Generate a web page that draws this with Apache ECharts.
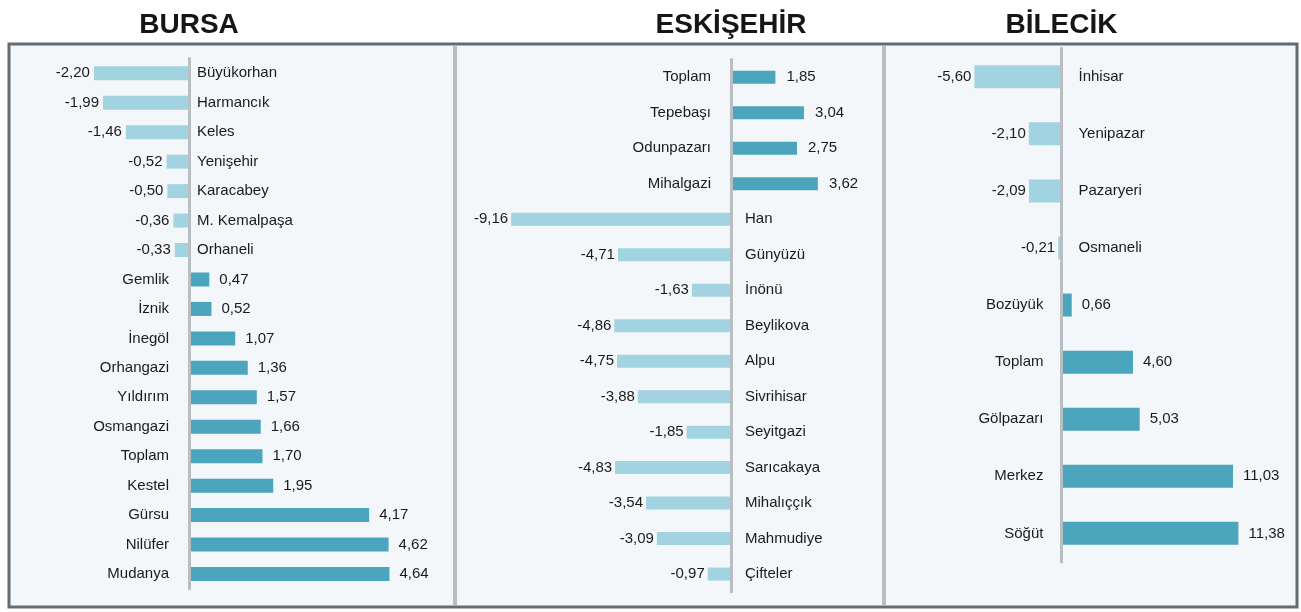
<!DOCTYPE html>
<html>
<head>
<meta charset="utf-8">
<title>Bursa Eskişehir Bilecik</title>
<script src="https://cdn.jsdelivr.net/npm/echarts@6/dist/echarts.min.js"></script>
<style>
    html, body { margin: 0; padding: 0; background: #fff; }
    #chart { width: 1301px; height: 612px; }
</style>
</head>
<body>
<div id="chart"></div>
<script>
// data
let bursaNames = ['Büyükorhan', 'Harmancık', 'Keles', 'Yenişehir', 'Karacabey', 'M. Kemalpaşa', 'Orhaneli',
    'Gemlik', 'İznik', 'İnegöl', 'Orhangazi', 'Yıldırım', 'Osmangazi', 'Toplam', 'Kestel', 'Gürsu', 'Nilüfer', 'Mudanya'];
let bursaValues = [-2.20, -1.99, -1.46, -0.52, -0.50, -0.36, -0.33,
    0.47, 0.52, 1.07, 1.36, 1.57, 1.66, 1.70, 1.95, 4.17, 4.62, 4.64];

let eskisehirNames = ['Toplam', 'Tepebaşı', 'Odunpazarı', 'Mihalgazi', 'Han', 'Günyüzü', 'İnönü', 'Beylikova',
    'Alpu', 'Sivrihisar', 'Seyitgazi', 'Sarıcakaya', 'Mihalıççık', 'Mahmudiye', 'Çifteler'];
let eskisehirValues = [1.85, 3.04, 2.75, 3.62, -9.16, -4.71, -1.63, -4.86,
    -4.75, -3.88, -1.85, -4.83, -3.54, -3.09, -0.97];

let bilecikNames = ['İnhisar', 'Yenipazar', 'Pazaryeri', 'Osmaneli', 'Bozüyük', 'Toplam', 'Gölpazarı', 'Merkez', 'Söğüt'];
let bilecikValues = [-5.60, -2.10, -2.09, -0.21, 0.66, 4.60, 5.03, 11.03, 11.38];

let titles = ['BURSA', 'ESKİŞEHİR', 'BİLECİK'];

const FONT = "'Liberation Sans', Arial, sans-serif";
const LABEL_SIZE = 15;
const TEXT_COLOR = '#1a1a1a';
const NEG_COLOR = '#a2d3e1';
const POS_COLOR = '#4aa5bd';

// layout of each panel
let panels = [
    { names: bursaNames, values: bursaValues, left: 81, width: 367.2, top: 58.6, height: 530.1,
      min: -2.5, max: 6, barWidth: 14, negGap: 4, posGap: 10, nameNeg: 8, namePos: 20, zero: 189 },
    { names: eskisehirNames, values: eskisehirValues, left: 491, width: 384, top: 59.6, height: 532.2,
      min: -10, max: 6, barWidth: 13, negGap: 3, posGap: 11, nameNeg: 14, namePos: 20, zero: 731 },
    { names: bilecikNames, values: bilecikValues, left: 952.6, width: 326.6, top: 48.2, height: 513.7,
      min: -7, max: 14, barWidth: 23, negGap: 3, posGap: 10, nameNeg: 17, namePos: 18, zero: 1061.5 }
];

function fmt(v) {
    return v.toFixed(2).replace('.', ',');
}

let grid = [], xAxis = [], yAxis = [], series = [];

panels.forEach((p, i) => {
    grid.push({ left: p.left, top: p.top, width: p.width, height: p.height, outerBoundsMode: 'none' });
    xAxis.push({ type: 'value', gridIndex: i, min: p.min, max: p.max, show: false });
    yAxis.push({
        type: 'category', gridIndex: i, inverse: true, data: p.names, z: 5,
        axisLine: { show: true, onZero: true, lineStyle: { color: '#b9bec2', width: 3 } },
        axisTick: { show: false },
        axisLabel: { show: false }
    });
    series.push({
        type: 'bar', xAxisIndex: i, yAxisIndex: i, barWidth: p.barWidth, silent: true,
        data: p.values.map(v => ({
            value: v,
            itemStyle: { color: v < 0 ? NEG_COLOR : POS_COLOR },
            label: { position: v < 0 ? 'left' : 'right', distance: v < 0 ? p.negGap : p.posGap }
        })),
        label: {
            show: true, fontFamily: FONT, fontSize: LABEL_SIZE, color: TEXT_COLOR,
            formatter: params => fmt(params.value)
        }
    });
    // transparent twin bars that carry the district names on the other side of zero
    series.push({
        type: 'bar', xAxisIndex: i, yAxisIndex: i, barWidth: p.barWidth, barGap: '-100%', silent: true,
        data: p.values.map(v => ({
            value: v,
            label: { position: v < 0 ? 'right' : 'left', distance: v < 0 ? p.nameNeg : p.namePos }
        })),
        itemStyle: { color: 'rgba(0,0,0,0)' },
        label: { show: true, fontFamily: FONT, fontSize: LABEL_SIZE, color: TEXT_COLOR, formatter: '{b}' }
    });
});

let graphic = [
    { type: 'rect', z: -10, shape: { x: 9, y: 44, width: 1288, height: 563 },
      style: { fill: '#f4f7fa', stroke: '#656c71', lineWidth: 3 } },
    { type: 'line', z: -9, shape: { x1: 455, y1: 46, x2: 455, y2: 605 },
      style: { stroke: '#b7bdc1', lineWidth: 4 } },
    { type: 'line', z: -9, shape: { x1: 884, y1: 46, x2: 884, y2: 605 },
      style: { stroke: '#b7bdc1', lineWidth: 4 } }
];
titles.forEach((t, i) => {
    graphic.push({
        type: 'text', x: panels[i].zero, y: 25,
        style: { text: t, font: 'bold 28px ' + FONT, fill: '#161616', align: 'center', verticalAlign: 'middle' }
    });
});

let chart = echarts.init(document.getElementById('chart'));
chart.setOption({
    animation: false,
    backgroundColor: '#fff',
    grid: grid,
    xAxis: xAxis,
    yAxis: yAxis,
    series: series,
    graphic: graphic
});
</script>
</body>
</html>
